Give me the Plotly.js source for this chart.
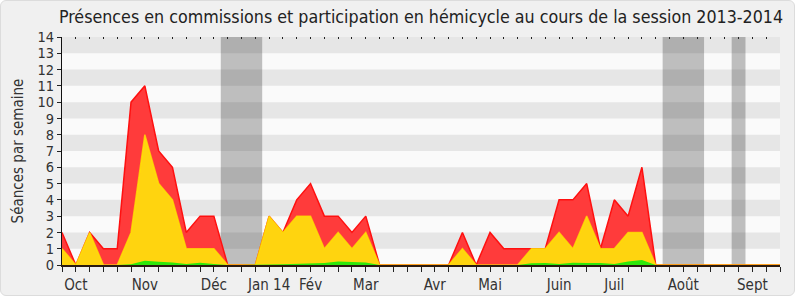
<!DOCTYPE html>
<html>
<head>
<meta charset="utf-8">
<script src="https://cdn.plot.ly/plotly-3.0.1.min.js"></script>
<style>
  html, body { margin: 0; padding: 0; background: #ffffff; }
  #frame { position: absolute; left: 0; top: 0; width: 795px; height: 296px; box-sizing: border-box;
           background: #f0f0f0; border: 1px solid #dcdcdc; border-radius: 6px; overflow: hidden; }
  #chart { position: absolute; left: -1px; top: -1px; width: 800px; height: 300px; }
</style>
</head>
<body>
<div id="frame"><div id="chart"></div></div>
<script>
// Weeks of the 2013-2014 session (0 = first week of October 2013)
const weeks = Array.from({length: 53}, (_, i) => i);

// Total presences (hemicycle + commission) per week
const totalSeances = [2,0,2,1,1,10,11,7,6,2,3,3,0,0,0,3,2,4,5,3,3,2,3,0,0,0,0,0,0,2,0,2,1,1,1,1,4,4,5,1,4,3,6,0,0,0,0,0,0,0,0,0,0];
// Commission presences
const commissionSeances = [1,0,2,0,0,2,8,5,4,1,1,1,0,0,0,3,2,3,3,1,2,1,2,0,0,0,0,0,0,1,0,0,0,0,1,1,2,1,3,1,1,2,2,0,0,0,0,0,0,0,0,0,0];
// Interventions (small values)
const interventions = [0,0,0,0,0,0.05,0.26,0.2,0.16,0.06,0.14,0.06,0,0,0,0.03,0.05,0.06,0.1,0.12,0.22,0.18,0.16,0,0,0,0,0,0,0,0,0,0,0,0.1,0.12,0.06,0.14,0.12,0.12,0.06,0.22,0.3,0,0,0,0,0,0,0,0,0,0];

// Month labels and the week they sit on
const monthLabels = ["Oct","Nov","Déc","Jan 14","Fév","Mar","Avr","Mai","Juin","Juil","Août","Sept"];
const monthWeeks  = [1, 6, 11, 15, 18, 22, 27, 31, 36, 40, 45, 50];

// Parliamentary recess periods (in weeks)
const recessStart = [11.5, 43.5, 48.5];
const recessEnd   = [14.5, 46.5, 49.5];

const yMax = 14;

const tickText = weeks.map(w => {
  const k = monthWeeks.indexOf(w);
  return k >= 0 ? monthLabels[k] : "";
});

const shapes = [];
recessStart.forEach((s, i) => {
  shapes.push({type: "rect", xref: "x", yref: "paper", x0: s, x1: recessEnd[i], y0: 0, y1: 1,
               fillcolor: "#bebebe", line: {width: 0}, layer: "below"});
});
for (let v = 1; v < yMax; v += 2) {
  shapes.push({type: "rect", xref: "paper", yref: "y", x0: 0, x1: 1, y0: v, y1: v + 1,
               fillcolor: "rgba(0,0,0,0.08)", line: {width: 0}, layer: "below"});
}

const traces = [
  {x: weeks, y: totalSeances, type: "scatter", mode: "lines", fill: "tozeroy",
   fillcolor: "#ff3b3b", line: {color: "#ff1010", width: 1.5, shape: "linear"}, hoverinfo: "skip"},
  {x: weeks, y: commissionSeances, type: "scatter", mode: "lines", fill: "tozeroy",
   fillcolor: "#ffd40f", line: {color: "rgba(255,230,0,0.75)", width: 1.5}, hoverinfo: "skip"},
  {x: weeks, y: interventions, type: "scatter", mode: "lines", fill: "tozeroy",
   fillcolor: "#2ee80a", line: {color: "#22ff00", width: 0}, hoverinfo: "skip"},
  {x: weeks, y: weeks.map(() => null), xaxis: "x2", type: "scatter", mode: "lines", hoverinfo: "skip", showlegend: false}
];

const font = "DejaVu Sans Condensed, DejaVu Sans, sans-serif";

const layout = {
  width: 800, height: 300,
  margin: {l: 62, r: 20, t: 37, b: 35, pad: 0},
  paper_bgcolor: "rgba(0,0,0,0)",
  plot_bgcolor: "#fafafa",
  showlegend: false,
  hovermode: false,
  font: {family: font, size: 15, color: "#333333"},
  title: {text: "Présences en commissions et participation en hémicycle au cours de la session 2013-2014",
          font: {family: font, size: 17.7, color: "#222222"},
          xref: "paper", x: 0.5, xanchor: "center", yref: "container", y: 0.943, yanchor: "middle"},
  xaxis: {range: [0, 52], tickmode: "array", tickvals: weeks, ticktext: tickText,
          ticks: "outside", ticklen: 5, tickcolor: "#222", showgrid: false, zeroline: false,
          showline: true, linecolor: "#2a1a10", linewidth: 1.5,
          tickfont: {family: font, size: 15, color: "#333"}},
  xaxis2: {overlaying: "x", matches: "x", side: "top", range: [0, 52], tickmode: "array", tickvals: weeks,
           ticks: "inside", ticklen: 2, tickcolor: "#222", showticklabels: false, showgrid: false,
           zeroline: false, showline: false},
  yaxis: {range: [0, yMax], tickmode: "linear", tick0: 0, dtick: 1, ticks: "outside", ticklen: 4,
          tickcolor: "#222", showgrid: false, zeroline: false, showline: true, linecolor: "#111", linewidth: 1,
          tickfont: {family: font, size: 14.5, color: "#333"},
          title: {text: "Séances par semaine", font: {family: font, size: 15, color: "#333"}, standoff: 10}},
  shapes: shapes
};

Plotly.newPlot("chart", traces, layout, {displayModeBar: false, staticPlot: true});
</script>
</body>
</html>
